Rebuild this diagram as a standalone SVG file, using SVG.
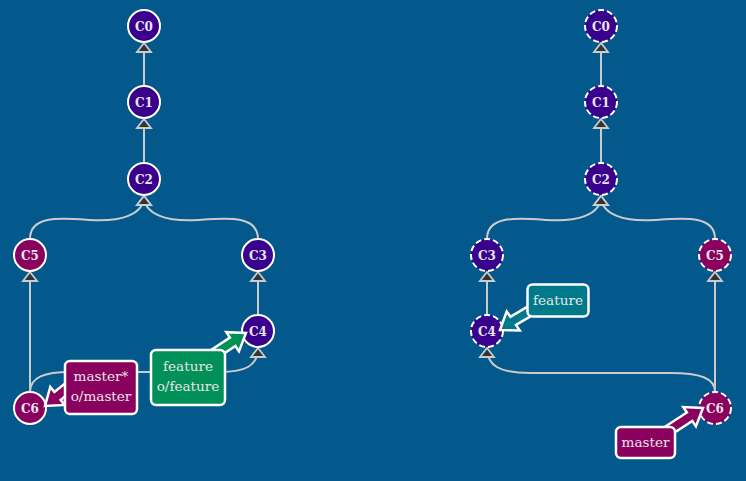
<svg xmlns="http://www.w3.org/2000/svg" width="746" height="481" viewBox="0 0 746 481">
<style>
.bg{fill:#03588c}
.edge{fill:none;stroke:#cccccc;stroke-width:2;marker-end:url(#tri)}
.node circle{stroke:#ffffff;stroke-width:2}
.dash circle{stroke-dasharray:6 3}
.p{fill:#39008e}
.m{fill:#8a005e}
.nl{font-family:"DejaVu Serif",serif;font-weight:bold;font-size:12px;fill:#e6e6e6;text-anchor:middle}
.bl{font-family:"DejaVu Serif",serif;font-size:13.6px;fill:#e6e6e6;text-anchor:middle}
.box{stroke:#ffffff;stroke-width:2.5}
.arr{stroke:#ffffff;stroke-width:2.5;stroke-linejoin:miter}
</style>
<defs>
<marker id="tri" markerUnits="userSpaceOnUse" markerWidth="16" markerHeight="18" viewBox="0 -9 16 18" refX="10" refY="0" orient="auto" overflow="visible">
<path d="M1,-7 L10,0 L1,7 Z" fill="#333333" stroke="#cccccc" stroke-width="1.8"/>
</marker>
</defs>
<rect class="bg" x="0" y="0" width="746" height="481"/>
<g id="connectors">
<path class="edge" d="M144,86 L144,43"/>
<path class="edge" d="M144,163 L144,119"/>
<path class="edge" d="M30,239 C30,215 60,218 90,220 C120,222 144,215 144,196"/>
<path class="edge" d="M258,239 C258,215 228,218 198,220 C168,222 144,215 144,196"/>
<path class="edge" d="M258,315 L258,272"/>
<path class="edge" d="M30,392 L30,272"/>
<path class="edge" d="M30,392 C30,377 45,372 70,372 L220,372 C245,372 258,366 258,348"/>
<path class="edge" d="M601,86 L601,43"/>
<path class="edge" d="M601,163 L601,119"/>
<path class="edge" d="M487,239 C487,215 517,218 547,220 C577,222 601,215 601,196"/>
<path class="edge" d="M715,239 C715,215 685,218 655,220 C625,222 601,215 601,196"/>
<path class="edge" d="M487,315 L487,272"/>
<path class="edge" d="M715,392 L715,272"/>
<path class="edge" d="M715,392 C715,378 700,373 670,373 L530,373 C500,373 487,366 487,348"/>
</g>
<g id="C0" class="node"><circle class="p" cx="144" cy="26" r="16"/><text class="nl" x="144" y="30.5">C0</text></g>
<g id="C1" class="node"><circle class="p" cx="144" cy="102" r="16"/><text class="nl" x="144" y="106.5">C1</text></g>
<g id="C2" class="node"><circle class="p" cx="144" cy="179" r="16"/><text class="nl" x="144" y="183.5">C2</text></g>
<g id="C5" class="node"><circle class="m" cx="30" cy="255" r="16"/><text class="nl" x="30" y="259.5">C5</text></g>
<g id="C3" class="node"><circle class="p" cx="258" cy="255" r="16"/><text class="nl" x="258" y="259.5">C3</text></g>
<g id="C4" class="node"><circle class="p" cx="258" cy="331" r="16"/><text class="nl" x="258" y="335.5">C4</text></g>
<g id="C6" class="node"><circle class="m" cx="30" cy="408" r="16"/><text class="nl" x="30" y="412.5">C6</text></g>
<g id="ref-master">
<polygon class="arr" fill="#8a005e" points="66.9,382.1 54.4,392.1 50.3,387 45,406 64.7,405 60.6,399.9 73.1,389.9"/>
<rect class="box" fill="#8a005e" x="65" y="361" width="72" height="53" rx="5"/>
<text class="bl" x="101" y="381">master*</text>
<text class="bl" x="101" y="401">o/master</text>
</g>
<g id="ref-feature">
<polygon class="arr" fill="#009058" points="207.75,364.18 235.39,345.98 238.97,351.4 246,333 226.31,332.2 229.89,337.62 202.25,355.82"/>
<rect class="box" fill="#009058" x="151" y="350" width="74" height="55" rx="5"/>
<text class="bl" x="188" y="371">feature</text>
<text class="bl" x="188" y="391">o/feature</text>
</g>
<g id="R-C0" class="node dash"><circle class="p" cx="601" cy="26" r="16"/><text class="nl" x="601" y="30.5">C0</text></g>
<g id="R-C1" class="node dash"><circle class="p" cx="601" cy="102" r="16"/><text class="nl" x="601" y="106.5">C1</text></g>
<g id="R-C2" class="node dash"><circle class="p" cx="601" cy="179" r="16"/><text class="nl" x="601" y="183.5">C2</text></g>
<g id="R-C3" class="node dash"><circle class="p" cx="487" cy="255" r="16"/><text class="nl" x="487" y="259.5">C3</text></g>
<g id="R-C5" class="node dash"><circle class="m" cx="715" cy="255" r="16"/><text class="nl" x="715" y="259.5">C5</text></g>
<g id="R-C4" class="node dash"><circle class="p" cx="487" cy="331" r="16"/><text class="nl" x="487" y="335.5">C4</text></g>
<g id="R-C6" class="node dash"><circle class="m" cx="715" cy="408" r="16"/><text class="nl" x="715" y="412.5">C6</text></g>
<g id="R-ref-feature">
<polygon class="arr" fill="#007a8a" points="532.2,303.9 510.4,316.8 506.7,311.4 500,330 519.7,330.4 516,325 537.8,312.1"/>
<rect class="box" fill="#007a8a" x="527.5" y="284.5" width="61" height="32" rx="5"/>
<text class="bl" x="558" y="305">feature</text>
</g>
<g id="R-ref-master">
<polygon class="arr" fill="#8a005e" points="662.7,440.2 692.3,420.9 695.9,426.4 703,408 683.3,407.1 686.9,412.5 657.3,431.8"/>
<rect class="box" fill="#8a005e" x="616" y="427" width="59" height="31" rx="5"/>
<text class="bl" x="645.5" y="447">master</text>
</g>
</svg>
